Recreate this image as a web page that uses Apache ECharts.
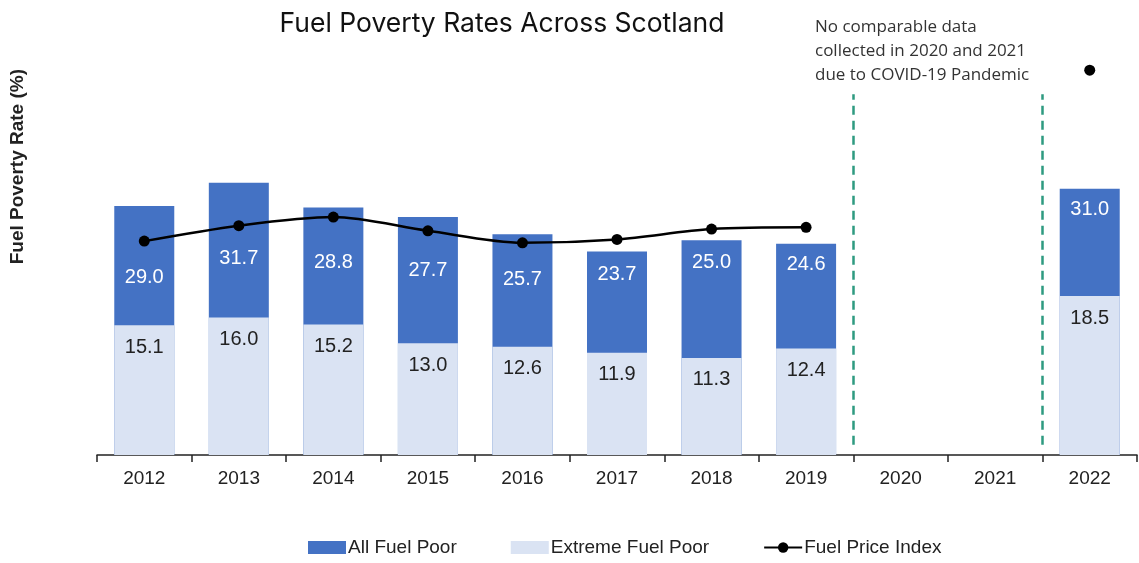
<!DOCTYPE html>
<html>
<head>
<meta charset="utf-8">
<title>Fuel Poverty Rates Across Scotland</title>
<script src="https://cdn.jsdelivr.net/npm/echarts@6/dist/echarts.min.js"></script>
<style>
  html, body { margin: 0; padding: 0; background: #ffffff; }
  #chart { width: 1139px; height: 563px; }
</style>
</head>
<body>
<div id="chart"></div>
<script>
// Survey years (2020 and 2021 have no comparable data)
const years = ['2012', '2013', '2014', '2015', '2016', '2017', '2018', '2019', '2020', '2021', '2022'];
// Percentage of households in fuel poverty
const allFuelPoor = [29.0, 31.7, 28.8, 27.7, 25.7, 23.7, 25.0, 24.6, null, null, 31.0];
// Percentage of households in extreme fuel poverty
const extremeFuelPoor = [15.1, 16.0, 15.2, 13.0, 12.6, 11.9, 11.3, 12.4, null, null, 18.5];
// Fuel price index (unscaled, drawn on a hidden axis)
const fuelPriceIndex = [24.9, 26.7, 27.7, 26.1, 24.7, 25.1, 26.3, 26.5, null, null, 44.8];

// How far below the bar top each "All Fuel Poor" label sits (px)
const allLabelDrop = [72, 76, 55, 53, 45, 23, 22, 21, null, null, 21];

const Y_MAX = 50;
const axisFont = 'Liberation Sans, Arial, sans-serif';

const chart = echarts.init(document.getElementById('chart'), null, { renderer: 'canvas' });

const allData = allFuelPoor.map((v, i) => v == null ? null : {
  value: v,
  label: { distance: allLabelDrop[i] - 10 }
});

chart.setOption({
  backgroundColor: '#ffffff',
  animation: false,
  title: {
    text: 'Fuel Poverty Rates Across Scotland',
    left: 497,
    top: 6,
    textAlign: 'center',
    textStyle: { fontFamily: 'Inter, sans-serif', fontSize: 26.5, fontWeight: 'normal', color: '#111111' }
  },
  graphic: [
    {
      type: 'text',
      left: 815,
      top: 15,
      style: {
        text: 'No comparable data\ncollected in 2020 and 2021\ndue to COVID-19 Pandemic',
        font: '17px "Open Sans", sans-serif',
        lineHeight: 24,
        fill: '#333333'
      }
    },
    {
      type: 'text',
      left: 8,
      top: 69,
      rotation: Math.PI / 2,
      style: {
        text: 'Fuel Poverty Rate (%)',
        font: 'bold 19px "Liberation Sans", Arial, sans-serif',
        fill: '#222222'
      }
    }
  ],
  legend: {
    bottom: 1,
    left: 303,
    itemGap: 54,
    itemWidth: 38,
    itemHeight: 13,
    textStyle: { fontFamily: axisFont, fontSize: 19, color: '#222222', padding: [0, 0, 0, -3] },
    data: [
      { name: 'All Fuel Poor', icon: 'rect' },
      { name: 'Extreme Fuel Poor', icon: 'rect' },
      { name: 'Fuel Price Index' }
    ]
  },
  grid: { left: 97, right: 2, top: 455 - Y_MAX * 8.59, bottom: 108, containLabel: false },
  xAxis: [
    {
      type: 'category',
      data: years,
      axisLine: { show: true, lineStyle: { color: '#222222', width: 1.5 } },
      axisTick: { show: true, length: 7, lineStyle: { color: '#222222', width: 1.5 } },
      axisLabel: { fontFamily: axisFont, fontSize: 19, color: '#222222', margin: 14 }
    },
    {
      // continuous helper axis used only to place the year-boundary separators
      type: 'value',
      min: -0.5,
      max: years.length - 0.5,
      show: false
    }
  ],
  yAxis: [
    { type: 'value', min: 0, max: Y_MAX, show: false, splitLine: { show: false } },
    { type: 'value', min: 0, max: Y_MAX, show: false, splitLine: { show: false } }
  ],
  series: [
    {
      name: 'All Fuel Poor',
      type: 'bar',
      data: allData,
      barWidth: 60,
      barGap: '-100%',
      z: 2,
      itemStyle: { color: '#4472C4' },
      label: {
        show: true,
        position: 'insideTop',
        formatter: p => p.value.toFixed(1),
        fontFamily: axisFont,
        fontSize: 20,
        color: '#ffffff'
      }
    },
    {
      name: 'Extreme Fuel Poor',
      type: 'bar',
      data: extremeFuelPoor,
      barWidth: 60,
      z: 3,
      itemStyle: { color: '#DAE3F3' },
      label: {
        show: true,
        position: 'insideTop',
        distance: 12,
        formatter: p => p.value.toFixed(1),
        fontFamily: axisFont,
        fontSize: 20,
        color: '#222222'
      }
    },
    {
      name: 'Fuel Price Index',
      type: 'line',
      yAxisIndex: 1,
      data: fuelPriceIndex,
      smooth: 0.3,
      connectNulls: false,
      symbol: 'circle',
      symbolSize: 11,
      z: 5,
      lineStyle: { color: '#000000', width: 2.5 },
      itemStyle: { color: '#000000' }
    },
    {
      // dashed separators around the years without data
      name: 'separators',
      type: 'line',
      xAxisIndex: 1,
      data: [],
      silent: true,
      markLine: {
        symbol: 'none',
        silent: true,
        label: { show: false },
        lineStyle: { color: '#2E9A80', width: 2.5, type: [9, 6] },
        data: [
          [{ coord: [7.5, 1.2] }, { coord: [7.5, 42] }],
          [{ coord: [9.5, 1.2] }, { coord: [9.5, 42] }]
        ]
      }
    }
  ]
});
</script>
</body>
</html>
